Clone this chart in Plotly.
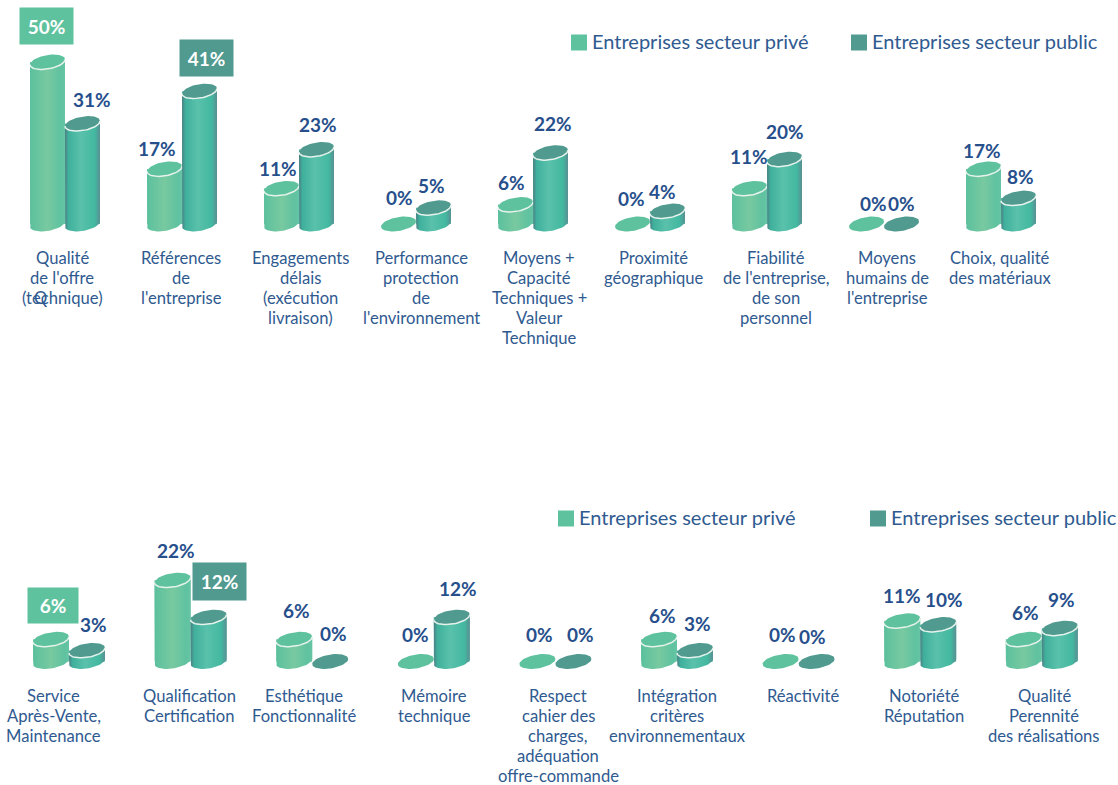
import numpy as np
import plotly.graph_objects as go

# ---------- data ----------
SERIES_NAMES = ["Entreprises secteur privé", "Entreprises secteur public"]

CATEGORIES_TOP = [
    "Qualité<br>de l'offre<br>(technique)",
    "Références<br>de<br>l'entreprise",
    "Engagements<br>délais<br>(exécution<br>livraison)",
    "Performance<br>protection<br>de<br>l'environnement",
    "Moyens +<br>Capacité<br>Techniques +<br>Valeur<br>Technique",
    "Proximité<br>géographique",
    "Fiabilité<br>de l'entreprise,<br>de son<br>personnel",
    "Moyens<br>humains de<br>l'entreprise",
    "Choix, qualité<br>des matériaux",
]
PRIVATE_TOP = [50, 17, 11, 0, 6, 0, 11, 0, 17]
PUBLIC_TOP = [31, 41, 23, 5, 22, 4, 20, 0, 8]

CATEGORIES_BOTTOM = [
    "Service<br>Après-Vente,<br>Maintenance",
    "Qualification<br>Certification",
    "Esthétique<br>Fonctionnalité",
    "Mémoire<br>technique",
    "Respect<br>cahier des<br>charges,<br>adéquation<br>offre-commande",
    "Intégration<br>critères<br>environnementaux",
    "Réactivité",
    "Notoriété<br>Réputation",
    "Qualité<br>Perennité<br>des réalisations",
]
PRIVATE_BOTTOM = [6, 22, 6, 0, 0, 6, 0, 11, 6]
PUBLIC_BOTTOM = [3, 12, 0, 12, 0, 3, 0, 10, 9]

# ---------- layout constants (pixels of the 1118x785 page) ----------
W, H = 1118, 785
SPLIT = 392
FONT = "Lato"
NAVY = "#264f8c"
TEXT = "#2f5a90"
C_PRIV = "#5fc29e"
C_PUB = "#509a8f"
LINE_STEP = 20

PANELS = [
    dict(x0=65.0, step=117.0, width=35.0, base=224.0, ppv=3.24, xa="x", ya="y",
         cats=CATEGORIES_TOP, a=PRIVATE_TOP, b=PUBLIC_TOP, label_mid=258,
         cat_x=[62, 181, 300, 421, 539, 653, 776, 887, 1000],
         lab_a=[(46.5, 26), (157, 148), (278, 168), (399, 197), (511, 182), (631, 198), (749, 156), (873, 203), (982, 150)],
         lab_b=[(92, 99), (206.5, 58), (318, 124), (431, 185), (553, 123), (662, 191), (785, 131), (901, 203), (1020, 176)],
         ),
    dict(x0=69.0, step=121.6, width=36.0, base=661.5, ppv=3.7, xa="x2", ya="y2",
         cats=CATEGORIES_BOTTOM, a=PRIVATE_BOTTOM, b=PUBLIC_BOTTOM, label_mid=696,
         cat_x=[53.5, 189, 304, 434, 558, 677, 803, 924, 1044],
         lab_a=[(53, 605.5), (176, 550), (296, 610), (415, 634), (539, 634), (662, 615), (782, 634), (902, 595), (1025, 612)],
         lab_b=[(93, 624), (219.5, 581.5), (333, 633), (458, 588), (580, 634), (697, 623), (812, 636), (944, 599), (1062, 599)],
         ),
]
BADGES = {(0, 0, 0): C_PRIV, (0, 1, 1): C_PUB, (1, 0, 0): C_PRIV, (1, 1, 1): C_PUB}
BADGE_SIZE = {(0, 0, 0): (53, 36), (0, 1, 1): (53, 36), (1, 0, 0): (50, 35), (1, 1, 1): (53, 37)}

GRAD_PRIV = [[0, "#5bbf9d"], [0.12, "#62c39f"], [0.5, "#78c9a0"], [0.88, "#5fc2a0"], [1, "#66c4a6"]]
GRAD_PUB = [[0, "#4d7f84"], [0.1, "#3fb09c"], [0.45, "#5ac1ab"], [0.85, "#43b8a0"], [1, "#5a8f93"]]

ELL_B = 7.0      # ellipse half height, px
ELL_SHEAR = 2.6  # rise at the right end, px
t = np.linspace(0, 2 * np.pi, 61)

fig = go.Figure()

for pi, p in enumerate(PANELS):
    n = len(p["cats"])
    bw = p["width"] / p["step"]
    for si, (vals, col, grad) in enumerate(
        [(p["a"], C_PRIV, GRAD_PRIV), (p["b"], C_PUB, GRAD_PUB)]
    ):
        off = (-0.5 if si == 0 else 0.5) * bw
        fig.add_trace(go.Bar(
            x=np.arange(n) + off, y=vals, width=bw, name=SERIES_NAMES[si],
            marker=dict(color=grad[2][1], line=dict(width=0)),
            xaxis=p["xa"], yaxis=p["ya"], showlegend=False,
        ))

    # cylinders, drawn category by category so each public one overlaps its neighbour
    for i in range(n):
        for si, (vals, col, grad) in enumerate(
            [(p["a"], C_PRIV, GRAD_PRIV), (p["b"], C_PUB, GRAD_PUB)]
        ):
            v = vals[i]
            cx = i + (-0.5 if si == 0 else 0.5) * bw
            ex = cx + bw / 2 * np.cos(t)
            dy = (ELL_SHEAR * np.cos(t) + ELL_B * np.sin(t)) / p["ppv"]
            if v > 0:
                low = t[:31]
                bx = cx + bw / 2 * np.cos(low)
                by = (ELL_SHEAR * np.cos(low) - ELL_B * np.sin(low)) / p["ppv"]
                xs = np.concatenate([[cx - bw / 2], bx[::-1], [cx + bw / 2]])
                ys = np.concatenate([[v - ELL_SHEAR / p["ppv"]], by[::-1], [v + ELL_SHEAR / p["ppv"]]])
                fig.add_trace(go.Scatter(
                    x=xs, y=ys, mode="lines", fill="toself", line=dict(width=0),
                    fillgradient=dict(type="horizontal", colorscale=grad),
                    xaxis=p["xa"], yaxis=p["ya"], showlegend=False, hoverinfo="skip",
                ))
            fig.add_trace(go.Scatter(
                x=ex, y=v + dy, mode="lines", fill="toself", fillcolor=col,
                line=dict(width=0), xaxis=p["xa"], yaxis=p["ya"],
                showlegend=False, hoverinfo="skip",
            ))
            if v > 0:
                arc = t[:31]
                fig.add_trace(go.Scatter(
                    x=cx + bw / 2 * np.cos(arc),
                    y=v + (ELL_SHEAR * np.cos(arc) - ELL_B * np.sin(arc)) / p["ppv"],
                    mode="lines", line=dict(width=1.5, color="#e6f3ec"),
                    xaxis=p["xa"], yaxis=p["ya"], showlegend=False, hoverinfo="skip",
                ))

    # value labels
    for si, (vals, labs) in enumerate([(p["a"], p["lab_a"]), (p["b"], p["lab_b"])]):
        for i, (v, (lx, ly)) in enumerate(zip(vals, labs)):
            cx = i + (-0.5 if si == 0 else 0.5) * bw
            px_x = p["x0"] + cx * p["step"]
            px_y = p["base"] - v * p["ppv"]
            key = (pi, si, i)
            kw = dict(font=dict(family=FONT, size=19, color=NAVY, weight="bold"))
            if key in BADGES:
                bwid, bh = BADGE_SIZE[key]
                kw = dict(font=dict(family=FONT, size=19, color="white", weight="bold"),
                          bgcolor=BADGES[key], width=bwid, height=bh, align="center",
                          valign="middle", borderpad=0)
            fig.add_annotation(
                x=cx, y=v, xref=p["xa"], yref=p["ya"], text=f"{v}%", showarrow=False,
                xanchor="center", yanchor="middle",
                xshift=lx - px_x, yshift=px_y - ly, **kw,
            )

    # category labels, one annotation per line to hold the source's 20 px leading
    for lx, txt in zip(p["cat_x"], p["cats"]):
        for k, line in enumerate(txt.split("<br>")):
            fig.add_annotation(
                x=lx / W, y=1 - (p["label_mid"] + k * LINE_STEP) / H, xref="paper", yref="paper",
                text=line, showarrow=False, xanchor="center", yanchor="middle", align="center",
                font=dict(family=FONT, size=16.6, color=TEXT), borderpad=0, borderwidth=0,
            )

# stray glyph printed over the first label in the source
fig.add_annotation(x=41 / W, y=1 - 298 / H, xref="paper", yref="paper", text="Q", showarrow=False,
                   xanchor="center", yanchor="middle",
                   font=dict(family=FONT, size=16.6, color=TEXT))

# legends
LEGENDS = [
    (571, 42, SERIES_NAMES[0], C_PRIV), (851, 42, SERIES_NAMES[1], C_PUB),
    (558, 518, SERIES_NAMES[0], C_PRIV), (870, 518, SERIES_NAMES[1], C_PUB),
]
for lx, ly, name, col in LEGENDS:
    fig.add_shape(type="rect", xref="paper", yref="paper",
                  x0=lx / W, x1=(lx + 16) / W, y0=1 - (ly + 8.5) / H, y1=1 - (ly - 7.5) / H,
                  fillcolor=col, line=dict(width=0))
    fig.add_annotation(x=(lx + 19) / W, y=1 - (ly - 1) / H, xref="paper", yref="paper", text=name,
                       showarrow=False, xanchor="left", yanchor="middle",
                       font=dict(family=FONT, size=20, color=TEXT))

def axis_cfg(**kw):
    return dict(visible=False, showgrid=False, zeroline=False, fixedrange=True, **kw)

p0, p1 = PANELS
fig.update_layout(
    width=W, height=H, autosize=False,
    margin=dict(l=0, r=0, t=0, b=0, pad=0),
    paper_bgcolor="white", plot_bgcolor="rgba(0,0,0,0)",
    barmode="overlay", showlegend=False,
    xaxis=axis_cfg(domain=[0, 1], range=[-p0["x0"] / p0["step"], (W - p0["x0"]) / p0["step"]]),
    yaxis=axis_cfg(domain=[1 - SPLIT / H, 1],
                   range=[(p0["base"] - SPLIT) / p0["ppv"], p0["base"] / p0["ppv"]]),
    xaxis2=axis_cfg(domain=[0, 1], range=[-p1["x0"] / p1["step"], (W - p1["x0"]) / p1["step"]], anchor="y2"),
    yaxis2=axis_cfg(domain=[0, 1 - SPLIT / H],
                    range=[(p1["base"] - H) / p1["ppv"], (p1["base"] - SPLIT) / p1["ppv"]], anchor="x2"),
)

fig.write_html("out.html", config={"displayModeBar": False},
               post_script="document.body.style.margin='0';document.documentElement.style.overflow='hidden';")
